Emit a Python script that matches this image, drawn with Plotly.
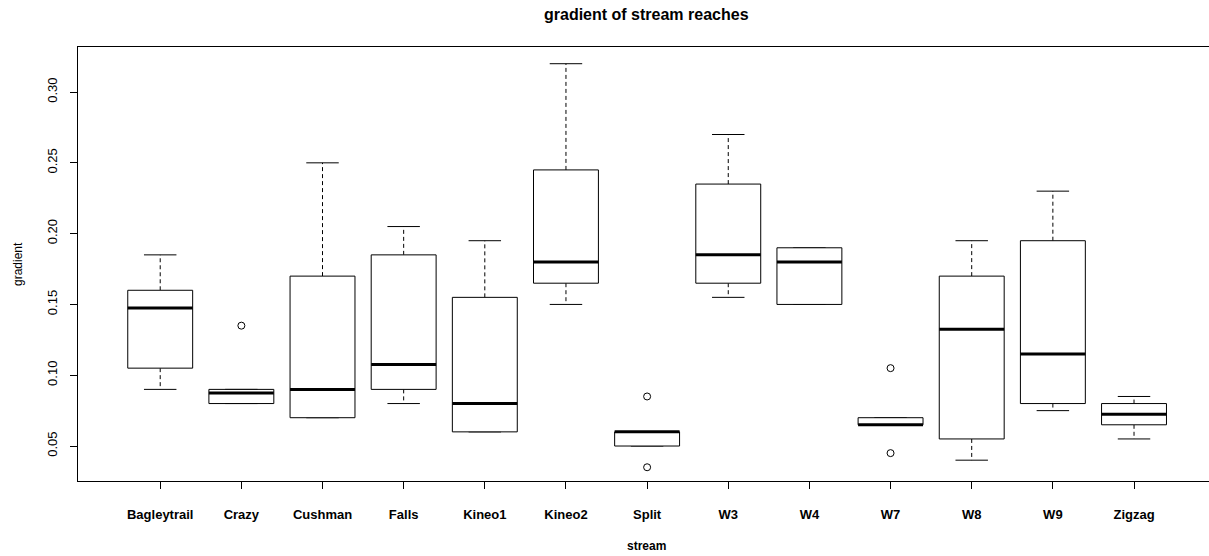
import plotly.graph_objects as go

# ---- data ----
streams = ["Bagleytrail", "Crazy", "Cushman", "Falls", "Kineo1", "Kineo2", "Split",
           "W3", "W4", "W7", "W8", "W9", "Zigzag"]
lower_whisker = [0.09, 0.08, 0.07, 0.08, 0.06, 0.15, 0.05, 0.155, 0.15, 0.065, 0.04, 0.075, 0.055]
q1 = [0.105, 0.08, 0.07, 0.09, 0.06, 0.165, 0.05, 0.165, 0.15, 0.065, 0.055, 0.08, 0.065]
median = [0.1475, 0.0875, 0.09, 0.1075, 0.08, 0.18, 0.06, 0.185, 0.18, 0.065, 0.1325, 0.115, 0.0725]
q3 = [0.16, 0.09, 0.17, 0.185, 0.155, 0.245, 0.06, 0.235, 0.19, 0.07, 0.17, 0.195, 0.08]
upper_whisker = [0.185, 0.09, 0.25, 0.205, 0.195, 0.32, 0.06, 0.27, 0.19, 0.07, 0.195, 0.23, 0.085]
outlier_stream = ["Crazy", "Split", "Split", "W7", "W7"]
outlier_value = [0.135, 0.085, 0.035, 0.105, 0.045]
y_ticks = [0.05, 0.10, 0.15, 0.20, 0.25, 0.30]

pos = list(range(1, len(streams) + 1))
BOXW = 0.4   # half box width (R default 0.8)
CAPW = 0.2   # half staple width

box_x, box_y = [], []
med_x, med_y = [], []
whi_x, whi_y = [], []
cap_x, cap_y = [], []
for p, lo, a, m, b, hi in zip(pos, lower_whisker, q1, median, q3, upper_whisker):
    box_x += [p - BOXW, p + BOXW, p + BOXW, p - BOXW, p - BOXW, None]
    box_y += [a, a, b, b, a, None]
    med_x += [p - BOXW, p + BOXW, None]
    med_y += [m, m, None]
    whi_x += [p, p, None, p, p, None]
    whi_y += [b, hi, None, a, lo, None]
    cap_x += [p - CAPW, p + CAPW, None, p - CAPW, p + CAPW, None]
    cap_y += [hi, hi, None, lo, lo, None]

out_x = [pos[streams.index(s)] for s in outlier_stream]

fig = go.Figure()
fig.add_trace(go.Scatter(x=whi_x, y=whi_y, mode="lines",
                         line=dict(color="black", width=1, dash="4px,3px"), hoverinfo="skip"))
fig.add_trace(go.Scatter(x=cap_x, y=cap_y, mode="lines",
                         line=dict(color="black", width=1), hoverinfo="skip"))
fig.add_trace(go.Scatter(x=box_x, y=box_y, mode="lines", fill="toself", fillcolor="white",
                         line=dict(color="black", width=1), hoverinfo="skip"))
fig.add_trace(go.Scatter(x=med_x, y=med_y, mode="lines",
                         line=dict(color="black", width=3), hoverinfo="skip"))
fig.add_trace(go.Scatter(x=out_x, y=outlier_value, mode="markers",
                         marker=dict(symbol="circle-open", size=7, color="black",
                                     line=dict(width=1)), hoverinfo="skip"))

fig.update_layout(
    width=1209, height=556,
    margin=dict(l=78, r=0, t=47, b=75),
    paper_bgcolor="white", plot_bgcolor="white",
    showlegend=False,
    font=dict(family="Liberation Sans, Arial, sans-serif", color="black", size=13),
    annotations=[
        dict(text="<b>gradient of stream reaches</b>", xref="paper", yref="paper",
             x=0.503, y=1, yshift=33, showarrow=False, font=dict(size=16),
             xanchor="center", yanchor="middle"),
        dict(text="<b>stream</b>", xref="paper", yref="paper", x=0.503, y=0, yshift=-65,
             showarrow=False, font=dict(size=12), xanchor="center", yanchor="middle"),
        dict(text="gradient", xref="paper", yref="paper", x=0, xshift=-60, y=0.5,
             showarrow=False, textangle=-90, font=dict(size=12),
             xanchor="center", yanchor="middle"),
    ],
)
fig.update_xaxes(
    range=[-0.013, 13.924], tickmode="array", tickvals=pos,
    ticktext=["<b>%s</b>" % s for s in streams],
    ticks="outside", ticklen=7, tickwidth=1, tickcolor="black",
    showline=True, linecolor="black", linewidth=1, mirror=True,
    showgrid=False, zeroline=False, tickfont=dict(size=13),
    ticklabelstandoff=14,
)
fig.update_yaxes(
    range=[0.0253, 0.3318], tickmode="array", tickvals=y_ticks,
    ticktext=["%.2f" % v for v in y_ticks], tickangle=-90,
    ticks="outside", ticklen=7, tickwidth=1, tickcolor="black",
    showline=True, linecolor="black", linewidth=1, mirror=False,
    showgrid=False, zeroline=False, tickfont=dict(size=13),
    ticklabelstandoff=8,
)

fig.write_html("out.html")
